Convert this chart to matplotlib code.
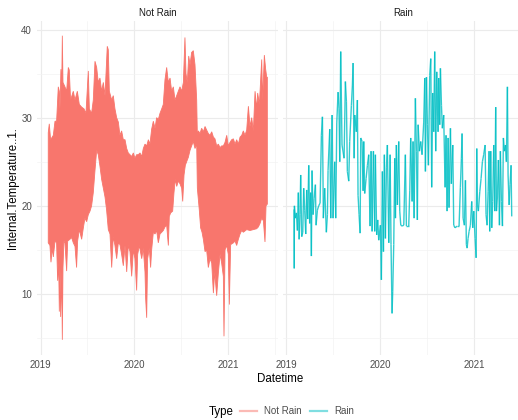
import numpy as np
import pandas as pd
import matplotlib
matplotlib.use("Agg")
import matplotlib.pyplot as plt
import matplotlib.dates as mdates
from matplotlib.collections import LineCollection
from matplotlib.lines import Line2D

plt.rcParams['font.family'] = ['Liberation Sans', 'DejaVu Sans']

# ---------------- data (decimal years, temperature) ----------------
# "Not Rain": upper and lower envelope of the dense hourly trace
norain_upper_year = [
    2019.081, 2019.092, 2019.106, 2019.135, 2019.153, 2019.170, 2019.188, 2019.199, 2019.206,
    2019.216, 2019.224, 2019.231, 2019.238, 2019.259, 2019.277, 2019.295, 2019.305, 2019.319,
    2019.348, 2019.366, 2019.391, 2019.412, 2019.437, 2019.462, 2019.483, 2019.508, 2019.519,
    2019.543, 2019.561, 2019.579, 2019.597, 2019.614, 2019.632, 2019.650, 2019.668, 2019.686,
    2019.710, 2019.721, 2019.732, 2019.757, 2019.774, 2019.792, 2019.810, 2019.828, 2019.845,
    2019.863, 2019.881, 2019.899, 2019.917, 2019.934, 2019.952, 2019.970, 2019.988, 2020.005,
    2020.023, 2020.041, 2020.059, 2020.077, 2020.094, 2020.112, 2020.130, 2020.148, 2020.165,
    2020.183, 2020.201, 2020.219, 2020.236, 2020.254, 2020.272, 2020.290, 2020.307, 2020.325,
    2020.343, 2020.361, 2020.379, 2020.396, 2020.414, 2020.432, 2020.450, 2020.467, 2020.485,
    2020.503, 2020.521, 2020.538, 2020.549, 2020.563, 2020.578, 2020.592, 2020.609, 2020.627,
    2020.645, 2020.663, 2020.670, 2020.681, 2020.698, 2020.716, 2020.734, 2020.752, 2020.769,
    2020.787, 2020.805, 2020.823, 2020.841, 2020.858, 2020.876, 2020.894, 2020.912, 2020.929,
    2020.947, 2020.965, 2020.983, 2021.000, 2021.018, 2021.036, 2021.054, 2021.072, 2021.089,
    2021.107, 2021.125, 2021.143, 2021.160, 2021.178, 2021.196, 2021.214, 2021.231, 2021.249,
    2021.267, 2021.285, 2021.302, 2021.313, 2021.331, 2021.356, 2021.366, 2021.384, 2021.398,
    2021.409, 2021.416]
norain_upper_temp = [
    28.3, 29.3, 27.5, 28.0, 29.6, 29.6, 33.5, 33.0, 31.0,
    35.5, 33.0, 39.3, 34.0, 33.5, 33.0, 35.7, 35.4, 32.0,
    33.0, 32.0, 33.0, 31.5, 31.2, 31.0, 30.5, 35.3, 31.0,
    30.5, 32.0, 36.4, 35.7, 34.0, 34.5, 33.0, 34.0, 32.5,
    38.1, 37.7, 33.0, 32.0, 32.5, 31.0, 30.0, 29.5, 28.0,
    28.5, 27.5, 27.5, 26.5, 26.0, 25.8, 25.6, 26.0, 25.4,
    25.8, 25.8, 26.0, 25.6, 26.5, 27.0, 26.8, 27.5, 27.0,
    28.7, 29.6, 28.8, 30.0, 29.8, 30.5, 31.0, 31.5, 34.3,
    35.7, 34.0, 34.5, 33.0, 33.5, 32.0, 32.5, 33.0, 33.5,
    33.0, 34.0, 39.1, 35.0, 34.0, 37.0, 36.0, 37.4, 37.6,
    36.0, 32.0, 28.0, 28.5, 28.2, 28.8, 28.4, 29.0, 28.6,
    28.2, 28.0, 28.4, 27.8, 27.6, 26.8, 27.0, 26.6, 26.8,
    26.8, 27.2, 28.0, 26.8, 27.2, 27.5, 27.6, 27.0, 27.5,
    27.0, 27.8, 28.0, 28.5, 28.0, 28.6, 31.3, 29.0, 30.0,
    28.5, 33.0, 31.0, 32.8, 31.5, 36.6, 32.0, 37.1, 35.5,
    34.6, 34.6]

norain_lower_year = [
    2019.081, 2019.099, 2019.110, 2019.124, 2019.135, 2019.153, 2019.170, 2019.181, 2019.192,
    2019.199, 2019.206, 2019.213, 2019.224, 2019.231, 2019.238, 2019.248, 2019.259, 2019.277,
    2019.288, 2019.312, 2019.330, 2019.348, 2019.366, 2019.383, 2019.394, 2019.412, 2019.437,
    2019.455, 2019.472, 2019.490, 2019.508, 2019.526, 2019.543, 2019.561, 2019.579, 2019.597,
    2019.614, 2019.632, 2019.650, 2019.668, 2019.686, 2019.703, 2019.721, 2019.739, 2019.757,
    2019.774, 2019.792, 2019.810, 2019.828, 2019.845, 2019.863, 2019.881, 2019.899, 2019.917,
    2019.934, 2019.952, 2019.970, 2019.988, 2020.005, 2020.023, 2020.034, 2020.052, 2020.077,
    2020.094, 2020.112, 2020.119, 2020.130, 2020.140, 2020.158, 2020.172, 2020.183, 2020.201,
    2020.219, 2020.236, 2020.254, 2020.272, 2020.290, 2020.307, 2020.325, 2020.343, 2020.361,
    2020.371, 2020.386, 2020.407, 2020.421, 2020.435, 2020.450, 2020.467, 2020.485, 2020.503,
    2020.514, 2020.528, 2020.542, 2020.556, 2020.574, 2020.592, 2020.609, 2020.627, 2020.645,
    2020.663, 2020.670, 2020.691, 2020.705, 2020.720, 2020.734, 2020.752, 2020.769, 2020.787,
    2020.805, 2020.823, 2020.841, 2020.855, 2020.876, 2020.894, 2020.912, 2020.929, 2020.947,
    2020.954, 2020.965, 2020.983, 2021.000, 2021.011, 2021.025, 2021.054, 2021.072, 2021.089,
    2021.107, 2021.125, 2021.143, 2021.160, 2021.196, 2021.231, 2021.267, 2021.302, 2021.320,
    2021.338, 2021.356, 2021.374, 2021.391, 2021.402, 2021.416]
norain_lower_temp = [
    15.8, 15.5, 13.6, 15.2, 14.2, 16.0, 15.8, 11.5, 13.5,
    8.0, 13.0, 7.4, 12.5, 4.8, 13.0, 16.0, 15.8, 12.6,
    16.0, 16.2, 16.4, 15.8, 15.4, 13.0, 16.0, 17.3, 16.2,
    17.5, 18.6, 18.2, 19.0, 19.4, 20.0, 21.5, 24.0, 26.3,
    25.8, 24.5, 23.0, 22.0, 21.0, 19.5, 17.3, 16.8, 13.0,
    16.5, 15.5, 14.0, 15.8, 15.6, 14.5, 13.2, 15.5, 12.5,
    15.5, 14.8, 12.0, 15.0, 14.0, 10.4, 14.5, 15.5, 14.0,
    15.2, 12.5, 9.5, 7.3, 14.0, 15.2, 13.0, 15.0, 17.0,
    16.8, 17.2, 15.8, 16.8, 17.0, 17.2, 17.6, 17.8, 15.5,
    18.8, 19.2, 19.4, 21.5, 23.0, 22.2, 22.8, 22.5, 22.0,
    20.5, 23.5, 24.6, 25.0, 25.5, 26.3, 26.8, 27.3, 26.5,
    27.0, 22.0, 19.5, 17.5, 17.0, 16.2, 14.8, 15.0, 13.0,
    14.0, 13.5, 10.1, 12.5, 9.8, 12.4, 14.5, 13.5, 12.0,
    5.2, 15.0, 15.5, 14.5, 8.8, 15.6, 15.8, 16.0, 15.5,
    16.2, 16.8, 17.2, 17.0, 17.3, 17.2, 17.3, 17.4, 17.6,
    18.0, 18.6, 18.3, 15.9, 20.0, 20.2]

# "Rain": trace during rain periods
rain_year = [
    2019.082, 2019.084, 2019.086, 2019.096, 2019.107, 2019.118, 2019.128, 2019.136, 2019.146,
    2019.153, 2019.164, 2019.175, 2019.185, 2019.196, 2019.207, 2019.217, 2019.228, 2019.239,
    2019.249, 2019.260, 2019.267, 2019.274, 2019.285, 2019.296, 2019.310, 2019.317, 2019.331,
    2019.345, 2019.360, 2019.374, 2019.385, 2019.395, 2019.409, 2019.427, 2019.438, 2019.445,
    2019.463, 2019.474, 2019.488, 2019.498, 2019.516, 2019.527, 2019.538, 2019.552, 2019.562,
    2019.570, 2019.580, 2019.594, 2019.616, 2019.630, 2019.641, 2019.651, 2019.666, 2019.676,
    2019.694, 2019.705, 2019.712, 2019.723, 2019.730, 2019.747, 2019.758, 2019.765, 2019.776,
    2019.787, 2019.794, 2019.808, 2019.819, 2019.826, 2019.836, 2019.851, 2019.865, 2019.879,
    2019.893, 2019.904, 2019.915, 2019.929, 2019.943, 2019.950, 2019.964, 2019.975, 2019.986,
    2020.004, 2020.014, 2020.025, 2020.036, 2020.046, 2020.057, 2020.068, 2020.078, 2020.093,
    2020.107, 2020.117, 2020.128, 2020.135, 2020.146, 2020.157, 2020.164, 2020.174, 2020.185,
    2020.199, 2020.210, 2020.221, 2020.235, 2020.253, 2020.270, 2020.281, 2020.306, 2020.317,
    2020.327, 2020.342, 2020.352, 2020.363, 2020.377, 2020.388, 2020.398, 2020.406, 2020.420,
    2020.434, 2020.448, 2020.466, 2020.477, 2020.484, 2020.495, 2020.505, 2020.516, 2020.530,
    2020.541, 2020.551, 2020.562, 2020.573, 2020.583, 2020.594, 2020.605, 2020.619, 2020.626,
    2020.637, 2020.644, 2020.655, 2020.665, 2020.679, 2020.694, 2020.704, 2020.715, 2020.726,
    2020.736, 2020.751, 2020.761, 2020.776, 2020.786, 2020.800, 2020.822, 2020.843, 2020.857,
    2020.868, 2020.875, 2020.886, 2020.900, 2020.911, 2020.921, 2020.929, 2020.939, 2020.950,
    2020.964, 2020.978, 2020.989, 2021.000, 2021.014, 2021.025, 2021.032, 2021.039, 2021.049,
    2021.064, 2021.078, 2021.092, 2021.106, 2021.121, 2021.131, 2021.142, 2021.153, 2021.163,
    2021.170, 2021.181, 2021.192, 2021.202, 2021.213, 2021.224, 2021.234, 2021.242, 2021.252,
    2021.263, 2021.274, 2021.284, 2021.295, 2021.306, 2021.316, 2021.327, 2021.338, 2021.348,
    2021.359, 2021.366, 2021.377, 2021.387, 2021.398, 2021.405]
rain_temp = [
    19.6, 12.9, 20.0, 18.6, 19.2, 17.2, 21.5, 16.2, 19.0,
    23.5, 16.5, 17.0, 22.0, 19.5, 16.8, 21.8, 18.5, 24.6,
    18.0, 21.5, 14.3, 24.0, 19.0, 20.8, 22.4, 17.8, 19.5,
    20.0, 20.3, 28.0, 30.1, 18.6, 22.0, 17.0, 19.0, 24.0,
    28.7, 18.6, 30.3, 18.6, 25.0, 18.6, 29.4, 32.9, 31.0,
    25.0, 37.5, 26.9, 25.4, 34.1, 31.8, 23.9, 22.8, 27.3,
    31.4, 33.7, 36.2, 25.4, 30.3, 28.4, 32.0, 21.2, 19.0,
    16.9, 27.7, 27.3, 21.7, 27.3, 21.4, 23.1, 24.6, 25.8,
    17.7, 26.2, 17.1, 26.2, 17.1, 25.8, 16.7, 18.4, 16.1,
    17.8, 11.6, 23.9, 14.8, 25.8, 16.3, 24.3, 26.9, 15.8,
    25.8, 15.6, 7.8, 10.3, 15.6, 25.4, 18.6, 26.9, 20.1,
    27.3, 19.4, 17.8, 17.7, 17.8, 25.8, 17.7, 17.7, 21.7,
    27.7, 20.5, 27.3, 18.6, 32.2, 26.2, 18.4, 29.2, 26.2,
    27.3, 25.8, 29.5, 34.5, 23.9, 34.6, 29.2, 24.6, 34.8,
    36.7, 22.1, 32.8, 28.4, 37.5, 26.2, 35.2, 28.4, 34.5,
    29.2, 35.6, 31.4, 28.8, 30.3, 22.1, 28.0, 19.4, 27.7,
    19.8, 28.8, 22.5, 26.9, 17.8, 17.5, 17.7, 17.7, 22.1,
    25.4, 28.2, 18.6, 17.8, 22.9, 15.6, 15.2, 16.3, 17.1,
    17.8, 20.5, 17.5, 19.4, 16.3, 14.1, 26.5, 20.1, 19.4,
    21.6, 23.1, 25.0, 25.8, 26.9, 19.0, 17.8, 21.6, 26.2,
    17.1, 26.2, 17.5, 20.5, 26.9, 19.4, 31.2, 19.4, 21.0,
    25.2, 17.8, 26.2, 20.5, 17.7, 27.7, 26.2, 26.9, 25.0,
    33.5, 23.5, 20.1, 22.4, 24.6, 18.8]

types = ["Not Rain", "Rain"]
colors = {"Not Rain": "#F8766D", "Rain": "#00BFC4"}


def to_num(yrs):
    yrs = np.asarray(yrs, dtype=float)
    ts = pd.Timestamp("2019-01-01") + pd.to_timedelta((yrs - 2019.0) * 365.25, unit="D")
    return mdates.date2num(ts.to_pydatetime())


up_x, up_y = to_num(norain_upper_year), np.array(norain_upper_temp)
lo_x, lo_y = to_num(norain_lower_year), np.array(norain_lower_temp)
rx, ry = to_num(rain_year), np.array(rain_temp)

all_x = np.concatenate([up_x, lo_x, rx])
all_y = np.concatenate([up_y, lo_y, ry])
xr = all_x.max() - all_x.min()
yr = all_y.max() - all_y.min()
xlim = (all_x.min() - 0.05 * xr, all_x.max() + 0.05 * xr)
ylim = (all_y.min() - 0.05 * yr, all_y.max() + 0.05 * yr)

W, H = 518, 420
fig = plt.figure(figsize=(W / 100, H / 100), dpi=100)
fig.patch.set_facecolor("white")

top_px, bot_px = 20.5, 355.0
ax_l = fig.add_axes([37.3 / W, 1 - bot_px / H, 241.0 / W, (bot_px - top_px) / H])
ax_r = fig.add_axes([283.0 / W, 1 - bot_px / H, 240.7 / W, (bot_px - top_px) / H])

txt_col = "#4D4D4D"
small = 7.0
for ax, name in zip([ax_l, ax_r], types):
    ax.set_xlim(*xlim)
    ax.set_ylim(*ylim)
    for s in ax.spines.values():
        s.set_visible(False)
    ax.xaxis.set_major_locator(mdates.YearLocator())
    ax.xaxis.set_major_formatter(mdates.DateFormatter("%Y"))
    ax.xaxis.set_minor_locator(mdates.MonthLocator(bymonth=7))
    ax.set_yticks([10, 20, 30, 40])
    ax.set_yticks([5, 15, 25, 35], minor=True)
    ax.grid(True, which="major", color="#EBEBEB", linewidth=0.85)
    ax.grid(True, which="minor", color="#F2F2F2", linewidth=0.45)
    ax.set_axisbelow(True)
    ax.tick_params(which="both", length=0, labelsize=small, labelcolor=txt_col)
    ax.tick_params(axis="x", pad=3.8)
    ax.tick_params(axis="y", pad=3.8)
    ax.set_title(name, fontsize=small, color="#1A1A1A", pad=3.0)

ax_r.tick_params(axis="y", labelleft=False)

# Not Rain: envelope of the dense trace
poly_x = np.concatenate([up_x, lo_x[::-1]])
poly_y = np.concatenate([up_y, lo_y[::-1]])
ax_l.fill(poly_x, poly_y, facecolor=colors["Not Rain"], edgecolor=colors["Not Rain"],
          linewidth=0.6, alpha=1.0, zorder=3)

# Rain: line with translucent segments
pts = np.column_stack([rx, ry])
segs = np.stack([pts[:-1], pts[1:]], axis=1)
lc = LineCollection(segs, colors=colors["Rain"], alpha=0.8, linewidths=1.0, zorder=3)
ax_r.add_collection(lc)

# axis titles
fig.text(13.0 / W, 1 - 188.0 / H, "Internal.Temperature..1.", rotation=90,
         ha="center", va="center", fontsize=8.3, color="black")
fig.text(280.0 / W, 1 - 379.5 / H, "Datetime", ha="center", va="center",
         fontsize=8.3, color="black")

# legend
handles = [Line2D([0], [0], color=colors[t], alpha=0.5, linewidth=1.6) for t in types]
fig.text(208.5 / W, 1 - 411.5 / H, "Type", ha="left", va="center", fontsize=8.3, color="black")
fig.legend(handles, types, loc="center", bbox_to_anchor=(297.0 / W, 1 - 411.5 / H),
           ncol=2, frameon=False, fontsize=small, handlelength=1.7, handletextpad=0.75,
           columnspacing=0.85, borderpad=0, borderaxespad=0, labelcolor=txt_col)

fig.savefig("out.png", dpi=100, facecolor="white")
